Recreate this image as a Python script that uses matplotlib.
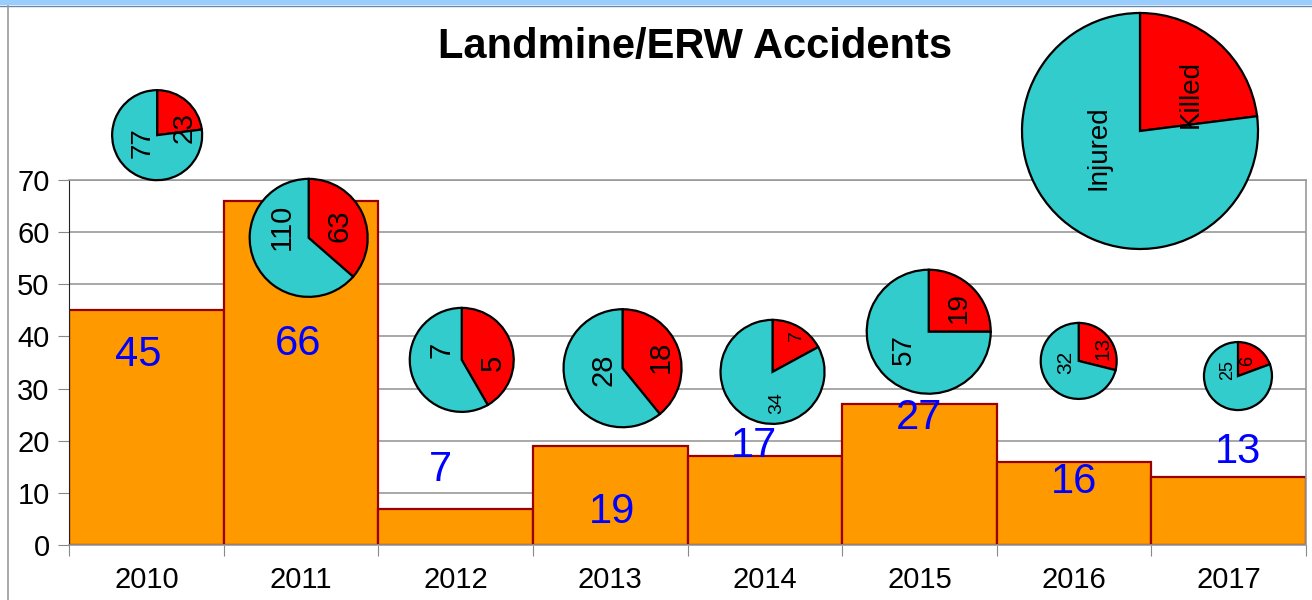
import matplotlib
matplotlib.use("Agg")
import matplotlib.pyplot as plt
from matplotlib.lines import Line2D
from matplotlib.patches import Rectangle

plt.rcParams['font.family'] = ['Liberation Sans', 'DejaVu Sans']

# data
years = ['2010', '2011', '2012', '2013', '2014', '2015', '2016', '2017']
accidents = [45, 66, 7, 19, 17, 27, 16, 13]
injured = [77, 110, 7, 28, 34, 57, 32, 25]
killed = [23, 63, 5, 18, 7, 19, 13, 6]
legend_labels = ['Killed', 'Injured']
legend_values = [23, 77]

# layout of the little pies (data coords of centre, radius in px, font size)
pie_dx = [0.07, 0.05, 0.04, 0.08, 0.05, 0.06, 0.03, 0.06]
pie_y = [78.6, 58.9, 35.5, 33.9, 33.2, 40.9, 35.3, 32.4]
pie_r = [45, 59, 52, 59, 52, 62, 38, 34]
pie_fs = [20, 21, 21, 21, 14, 20, 15, 13]
# label offsets (fraction of radius): killed, injured
lab_k = [(0.62, 0.16), (0.53, 0.20), (0.60, -0.06), (0.64, 0.20),
         (0.46, 0.69), (0.48, 0.39), (0.63, 0.32), (0.29, 0.44)]
lab_i = [(-0.33, -0.16), (-0.46, 0.19), (-0.38, 0.19), (-0.32, -0.03),
         (0.08, -0.60), (-0.40, -0.29), (-0.34, -0.03), (-0.29, 0.18)]
# bar value label positions
val_dx = [-0.05, -0.02, -0.10, 0.01, -0.07, 0.0, 0.0, 0.06]
val_y = [36.4, 38.5, 14.4, 6.3, 19.0, 24.3, 12.1, 17.8]

W, H = 1312, 600
fig = plt.figure(figsize=(W / 100, H / 100), dpi=100)

# chart frame bits
fig.patches.append(Rectangle((0, 1 - 5 / H), 1, 5 / H, transform=fig.transFigure,
                             facecolor='#99CCFF', edgecolor='none'))
fig.lines.append(Line2D([0, 1], [1 - 5.5 / H, 1 - 5.5 / H], transform=fig.transFigure,
                        color='#6688AA', lw=1))
fig.lines.append(Line2D([7.5 / W, 7.5 / W], [0, 1 - 5.5 / H], transform=fig.transFigure,
                        color='#999999', lw=1.2))

ax = fig.add_axes([69 / W, 55 / H, 1237 / W, 365 / H])
x = list(range(len(years)))
ax.bar(x, accidents, width=1.0, color='#FF9900', edgecolor='#990000', linewidth=1.6, zorder=2)
ax.set_xlim(-0.5, len(years) - 0.5)
ax.set_ylim(0, 70)
ax.set_yticks(range(0, 71, 10))
ax.yaxis.grid(True, color='#999999', linewidth=1.2, zorder=0)
ax.set_axisbelow(True)
ax.set_xticks([i - 0.5 for i in range(len(years) + 1)])
ax.set_xticklabels([])
ax.set_xticks(x, minor=True)
ax.set_xticklabels(years, minor=True, fontsize=21)
ax.tick_params(axis='x', which='major', length=8, color='#888888', direction='out')
ax.tick_params(axis='x', which='minor', length=0, pad=15)
ax.tick_params(axis='y', length=8, color='#888888', labelsize=21, pad=6)
for s in ['top', 'right', 'bottom']:
    ax.spines[s].set_color('#999999')
    ax.spines[s].set_linewidth(1.2)
ax.spines['left'].set_color('#222222')

for i, v in enumerate(accidents):
    ax.text(i + val_dx[i], val_y[i], str(v), color='#0000FF', fontsize=30,
            ha='center', va='center', zorder=5)

fig.text(695 / W, 1 - 47 / H, 'Landmine/ERW Accidents', fontsize=30, fontweight='bold',
         ha='center', va='center')


def draw_pie(cx, cy, r, vals, labels, offs, fs):
    pax = fig.add_axes([(cx - r - 2) / W, (cy - r - 2) / H, (2 * r + 4) / W, (2 * r + 4) / H])
    pax.pie(vals, colors=['#FF0000', '#33CCCC'], startangle=90, counterclock=False,
            radius=1, wedgeprops=dict(edgecolor='black', linewidth=1.6))
    lim = 1 + 2 / r
    pax.set_xlim(-lim, lim)
    pax.set_ylim(-lim, lim)
    pax.set_aspect('equal')
    pax.axis('off')
    for lab, (ox, oy) in zip(labels, offs):
        pax.text(ox, oy, lab, rotation=90, fontsize=fs, ha='center', va='center')


for i in range(len(years)):
    px, py = ax.transData.transform((i + pie_dx[i], pie_y[i]))
    draw_pie(px, py, pie_r[i], [killed[i], injured[i]],
             [str(killed[i]), str(injured[i])], [lab_k[i], lab_i[i]], pie_fs[i])

# legend pie
draw_pie(1140, H - 131, 118, legend_values, legend_labels,
         [(0.43, 0.31), (-0.35, -0.14)], 20)

fig.savefig('out.png', dpi=100)
